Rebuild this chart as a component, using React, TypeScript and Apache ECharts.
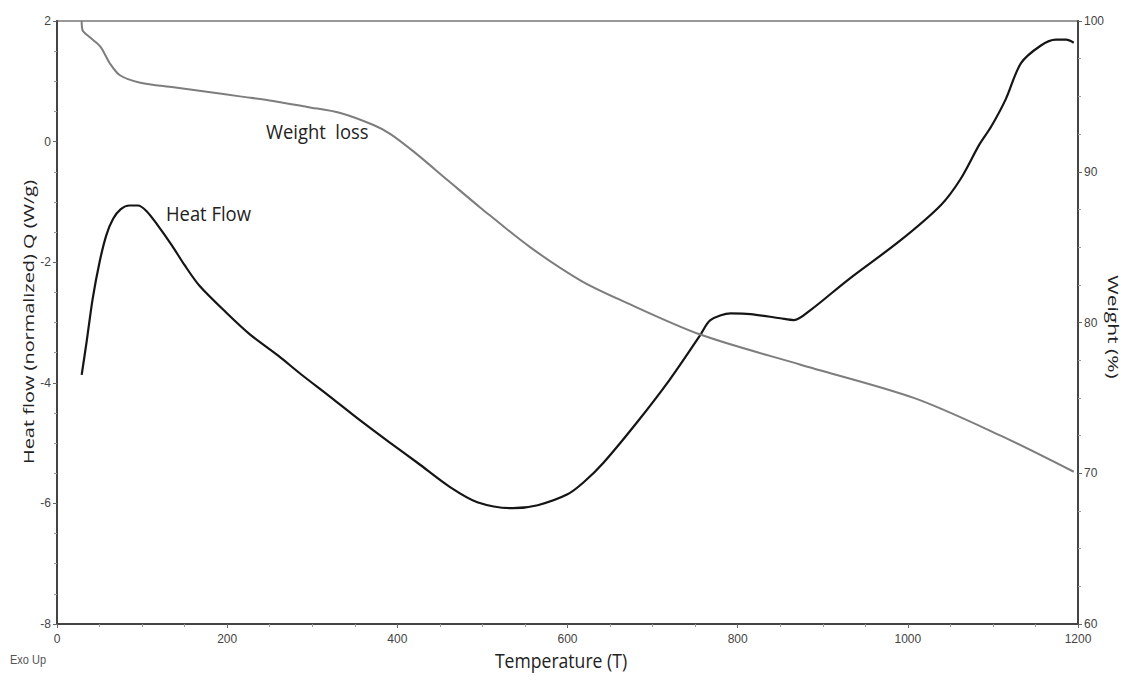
import React, { useEffect, useRef } from "react";
import * as echarts from "echarts";

const heatFlowT = [29, 35, 42, 50, 58, 66, 75, 85, 95, 105, 118, 135, 150, 168, 200, 227, 260, 286, 320, 356, 390, 424, 462, 494, 536, 565, 600, 619, 642, 682, 720, 756, 768, 792, 815, 850, 866, 886, 929, 992, 1039, 1062, 1084, 1098, 1115, 1133, 1156, 1174, 1186, 1195];
const heatFlowQ = [-3.87, -3.3, -2.6, -2.0, -1.55, -1.28, -1.12, -1.06, -1.06, -1.15, -1.38, -1.72, -2.05, -2.4, -2.85, -3.2, -3.55, -3.85, -4.22, -4.62, -4.98, -5.33, -5.73, -5.98, -6.08, -6.03, -5.85, -5.65, -5.33, -4.65, -3.95, -3.21, -2.96, -2.85, -2.86, -2.93, -2.96, -2.79, -2.3, -1.63, -1.05, -0.62, -0.05, 0.25, 0.7, 1.3, 1.59, 1.69, 1.69, 1.64];

const weightT = [29, 30, 39, 51, 62, 74, 98, 137, 176, 215, 254, 294, 333, 372, 392, 420, 460, 498, 556, 615, 662, 756, 874, 1007, 1109, 1195];
const weightPct = [100, 99.4, 98.9, 98.3, 97.2, 96.4, 95.9, 95.6, 95.3, 95.0, 94.7, 94.3, 93.9, 93.1, 92.5, 91.3, 89.4, 87.6, 85.0, 82.8, 81.5, 79.2, 77.2, 75.0, 72.5, 70.1];

const leftTicks = [-8, -6, -4, -2, 0, 2];
const rightTicks = [60, 70, 80, 90, 100];
const xTicks = [0, 200, 400, 600, 800, 1000, 1200];

export default function App() {
  const ref = useRef<HTMLDivElement>(null);
  useEffect(() => {
    if (!ref.current) return;
    const chart = echarts.init(ref.current, undefined, { renderer: "svg" });
    const tickFont = { fontFamily: "Liberation Sans, Arial, sans-serif", fontSize: 12, color: "#444" };
    const labelFont = "16px 'Open Sans', sans-serif";
    const axisCommon = {
      axisLine: { show: true, onZero: false, lineStyle: { color: "#444", width: 2 } },
      axisTick: { show: true, length: 4, lineStyle: { color: "#666" } },
      minorTick: { show: true, splitNumber: 4, length: 3, lineStyle: { color: "#999" } },
      splitLine: { show: false },
    };
    chart.setOption({
      animation: false,
      backgroundColor: "#fff",
      grid: { left: 57, right: 1125 - 1078, top: 21, bottom: 680 - 624, show: true, borderColor: "#999", borderWidth: 2 },
      xAxis: {
        type: "value",
        min: xTicks[0],
        max: xTicks[xTicks.length - 1],
        interval: 200,
        ...axisCommon,
        axisLabel: { ...tickFont, margin: 9, formatter: (v: number) => String(v) },
      },
      yAxis: [
        {
          type: "value",
          min: leftTicks[0],
          max: leftTicks[leftTicks.length - 1],
          interval: 2,
          ...axisCommon,
          axisLabel: { ...tickFont, margin: 6 },
        },
        {
          type: "value",
          min: rightTicks[0],
          max: rightTicks[rightTicks.length - 1],
          interval: 10,
          position: "right",
          ...axisCommon,
          axisLabel: { ...tickFont, margin: 6 },
        },
      ],
      series: [
        {
          type: "line",
          name: "Heat Flow",
          yAxisIndex: 0,
          data: heatFlowT.map((t, i) => [t, heatFlowQ[i]]),
          smooth: 0.3,
          showSymbol: false,
          lineStyle: { color: "#151515", width: 2.2 },
        },
        {
          type: "line",
          name: "Weight loss",
          yAxisIndex: 1,
          data: weightT.map((t, i) => [t, weightPct[i]]),
          smooth: 0.3,
          showSymbol: false,
          lineStyle: { color: "#7d7d7d", width: 2 },
        },
      ],
      graphic: [
        { type: "text", x: 266, y: 131, scaleX: 1.15, scaleY: 1.3, style: { text: "Weight  loss", font: labelFont, fill: "#222", align: "left", verticalAlign: "middle" } },
        { type: "text", x: 166, y: 213, scaleX: 1.15, scaleY: 1.3, style: { text: "Heat Flow", font: labelFont, fill: "#222", align: "left", verticalAlign: "middle" } },
        { type: "text", x: 561, y: 661, scaleX: 1.1, scaleY: 1.25, style: { text: "Temperature (T)", font: labelFont, fill: "#222", align: "center", verticalAlign: "middle" } },
        { type: "text", x: 28, y: 322, rotation: Math.PI / 2, scaleX: 1.33, scaleY: 1.0, style: { text: "Heat flow (normalized) Q (W/g)", font: "15px 'Open Sans', sans-serif", fill: "#222", align: "center", verticalAlign: "middle" } },
        { type: "text", x: 1114, y: 327, rotation: -Math.PI / 2, scaleX: 1.4, scaleY: 1.0, style: { text: "Weight (%)", font: "15px 'Open Sans', sans-serif", fill: "#222", align: "center", verticalAlign: "middle" } },
        { type: "text", x: 10, y: 660, scaleX: 1.1, scaleY: 1.2, style: { text: "Exo Up", font: "10px 'Liberation Sans', Arial, sans-serif", fill: "#555", align: "left", verticalAlign: "middle" } },
      ],
    });
    return () => chart.dispose();
  }, []);
  return <div ref={ref} style={{ width: 1125, height: 680, position: "absolute", left: 0, top: 0 }} />;
}
